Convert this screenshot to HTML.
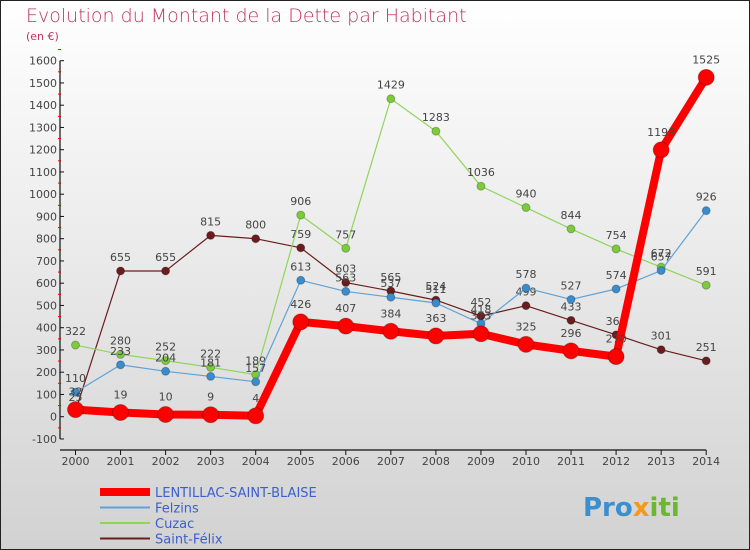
<!DOCTYPE html>
<html><head><meta charset="utf-8">
<style>
html,body{margin:0;padding:0}
body{width:750px;height:550px;overflow:hidden;font-family:"DejaVu Sans","Liberation Sans",sans-serif}
#wrap{position:absolute;left:0;top:0;width:748px;height:548px;border:1px solid #222;background:linear-gradient(#ffffff,#d2d2d2)}
</style></head><body>
<div id="wrap">
<svg id="chart" width="750" height="550" style="position:absolute;left:-1px;top:-1px">
<text x="26" y="22" font-size="19" fill="#c0345a" font-family="DejaVu Sans,sans-serif" font-weight="200">Evolution du Montant de la Dette par Habitant</text>
<text x="26" y="40" font-size="11" fill="#c0345a">(en €)</text>
<g id="axes"></g>
<g id="series"></g>
<g id="legend"></g>
<text x="583" y="516" font-size="26" font-weight="bold" fill="#3a8fd0">Pro<tspan fill="#f39a1a">x</tspan><tspan fill="#6ab82e">iti</tspan></text>
</svg>
</div>
<script>
const years=[2000,2001,2002,2003,2004,2005,2006,2007,2008,2009,2010,2011,2012,2013,2014];
const yTicks=[-100,0,100,200,300,400,500,600,700,800,900,1000,1100,1200,1300,1400,1500,1600];
const lentillac=[32,19,10,9,4,426,407,384,363,373,325,296,270,1199,1525];
const felzins=[110,233,204,181,157,613,563,537,511,418,578,527,574,657,926];
const cuzac=[322,280,252,222,189,906,757,1429,1283,1036,940,844,754,672,591];
const saintFelix=[25,655,655,815,800,759,603,565,524,452,499,433,368,301,251];
const names=["LENTILLAC-SAINT-BLAISE","Felzins","Cuzac","Saint-Félix"];
const NS="http://www.w3.org/2000/svg";
function X(i){return 75.5+i*45.05;}
function Y(v){return 416.7-v*0.2225;}
function mk(t,a,p){const e=document.createElementNS(NS,t);for(const k in a)e.setAttribute(k,a[k]);p.appendChild(e);return e;}
const ax=document.getElementById('axes');
let l=mk('line',{x1:60,y1:Y(1600),x2:60,y2:Y(-100),stroke:'#111','stroke-width':1.2},ax);


l=mk('line',{x1:60,y1:450,x2:X(14),y2:450,stroke:'#111','stroke-width':1.2},ax);


yTicks.forEach(v=>{
 mk('line',{x1:60,y1:Y(v),x2:64,y2:Y(v),stroke:'#111'},ax);
 mk('line',{x1:58,y1:Y(v+50),x2:61,y2:Y(v+50),stroke:'#e00'},ax);
 const t=mk('text',{x:57,y:Y(v)+4,'text-anchor':'end','font-size':11,fill:'#444'},ax);
 t.textContent=v;
 
 
});
years.forEach((yr,i)=>{
 mk('line',{x1:X(i),y1:450,x2:X(i),y2:455,stroke:'#111'},ax);
 const t=mk('text',{x:X(i),y:465,'text-anchor':'middle','font-size':11,fill:'#444'},ax);
 t.textContent=yr;
 
 
});
const sg=document.getElementById('series');
function draw(data,color,w,r,name,dotColor){
 const g=mk('g',{},sg);
 
 
 mk('polyline',{points:data.map((v,i)=>X(i)+','+Y(v)).join(' '),fill:'none',stroke:color,'stroke-width':w,'stroke-linejoin':'round'},g);
 data.forEach((v,i)=>{
  const c=mk('circle',{cx:X(i),cy:Y(v),r:r,fill:dotColor,stroke:'rgba(0,0,0,0.25)','stroke-width':1},g);
  
  
  const t=mk('text',{x:X(i),y:Y(v)-(r+6),'text-anchor':'middle','font-size':11,fill:'#444'},g);
  t.textContent=v;
  
  
 });
}
draw(saintFelix,'#6b1d1d',1.2,4,'series-saint-felix','#6b1d1d');
draw(cuzac,'#8fd55a',1.2,4,'series-cuzac','#7ccc3a');
draw(felzins,'#5ea2d6',1.2,4,'series-felzins','#3b8ccc');
draw(lentillac,'#f00',8,8,'series-lentillac','#f00');
const lg=document.getElementById('legend');
const lc=[['#f00',8],['#5ea2d6',2],['#8fd55a',2],['#6b1d1d',2]];
names.forEach((n,i)=>{
 const y=492+i*15.5;
 mk('line',{x1:100,y1:y,x2:150,y2:y,stroke:lc[i][0],'stroke-width':lc[i][1]},lg);
 const t=mk('text',{x:155,y:y+5,'font-size':13,fill:'#3b5fcc'},lg);
 t.textContent=n;
 
 
});
</script>
</body></html>
